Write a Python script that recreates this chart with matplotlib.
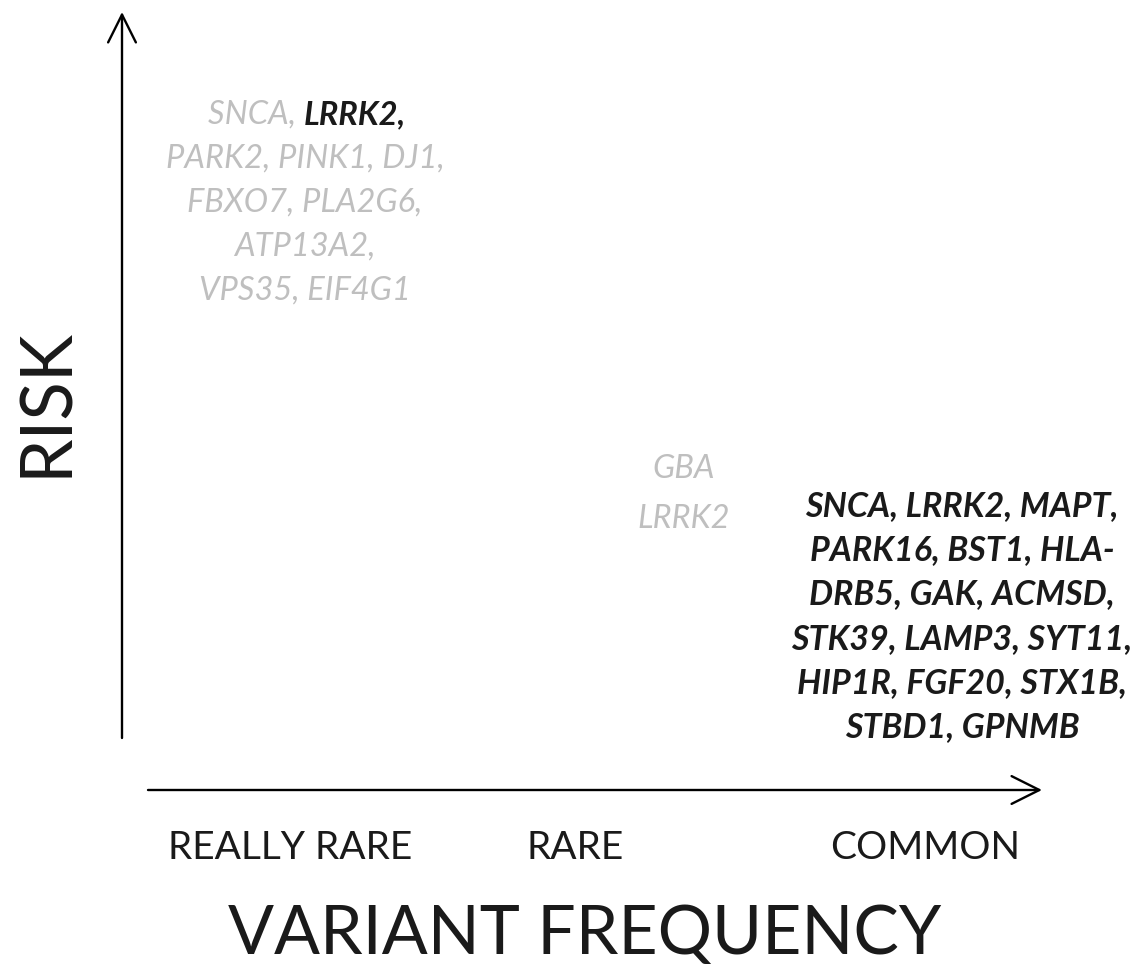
import matplotlib
matplotlib.use("Agg")
from matplotlib import pyplot as plt

plt.rcParams['font.family'] = ['Lato', 'DejaVu Sans']

# text content
rare_lead = "SNCA, "
rare_bold = "LRRK2,"
rare_rest = ["PARK2, PINK1, DJ1,", "FBXO7, PLA2G6,", "ATP13A2,", "VPS35, EIF4G1"]
mid_genes = ["GBA", "LRRK2"]
common_genes = ["SNCA, LRRK2, MAPT,", "PARK16, BST1, HLA-", "DRB5, GAK, ACMSD,",
                "STK39, LAMP3, SYT11,", "HIP1R, FGF20, STX1B,", "STBD1, GPNMB"]
freq_labels = ["REALLY RARE", "RARE", "COMMON"]
freq_x = [290, 575, 925]

grey = '#bfbfbf'
dark = '#1a1a1a'

fig = plt.figure(figsize=(11.42, 9.76), dpi=100)
ax = fig.add_axes([0, 0, 1, 1])
ax.set_xlim(0, 1142)
ax.set_ylim(976, 0)
ax.axis('off')

arrow = dict(arrowstyle='->,head_length=2.0,head_width=1.0', lw=1.7, color='black',
             shrinkA=0, shrinkB=0)
ax.annotate('', xy=(122, 12), xytext=(122, 738), arrowprops=arrow)
ax.annotate('', xy=(1042, 790), xytext=(148, 790), arrowprops=arrow)

gsize = 23.5
ax.text(304, 115, rare_lead, ha='right', va='center', color=grey, style='italic', fontsize=gsize)
ax.text(304, 115, rare_bold, ha='left', va='center', color=dark, style='italic',
        weight='bold', fontsize=gsize)
for i, line in enumerate(rare_rest):
    ax.text(305, 159 + 44 * i, line, ha='center', va='center', color=grey,
            style='italic', fontsize=gsize)

for i, g in enumerate(mid_genes):
    ax.text(684, 469 + 50 * i, g, ha='center', va='center', color=grey,
            style='italic', fontsize=gsize)

for i, line in enumerate(common_genes):
    ax.text(962, 506 + 44.2 * i, line, ha='center', va='center', color=dark,
            style='italic', weight='bold', fontsize=24.5)

for x, lab in zip(freq_x, freq_labels):
    ax.text(x, 848, lab, ha='center', va='center', color=dark, fontsize=28)

ax.text(46, 402, "RISK", rotation=90, ha='center', va='center', color=dark, fontsize=51)
ax.text(585, 935, "VARIANT FREQUENCY", ha='center', va='center', color=dark, fontsize=49)

plt.savefig('out.png', dpi=100)
